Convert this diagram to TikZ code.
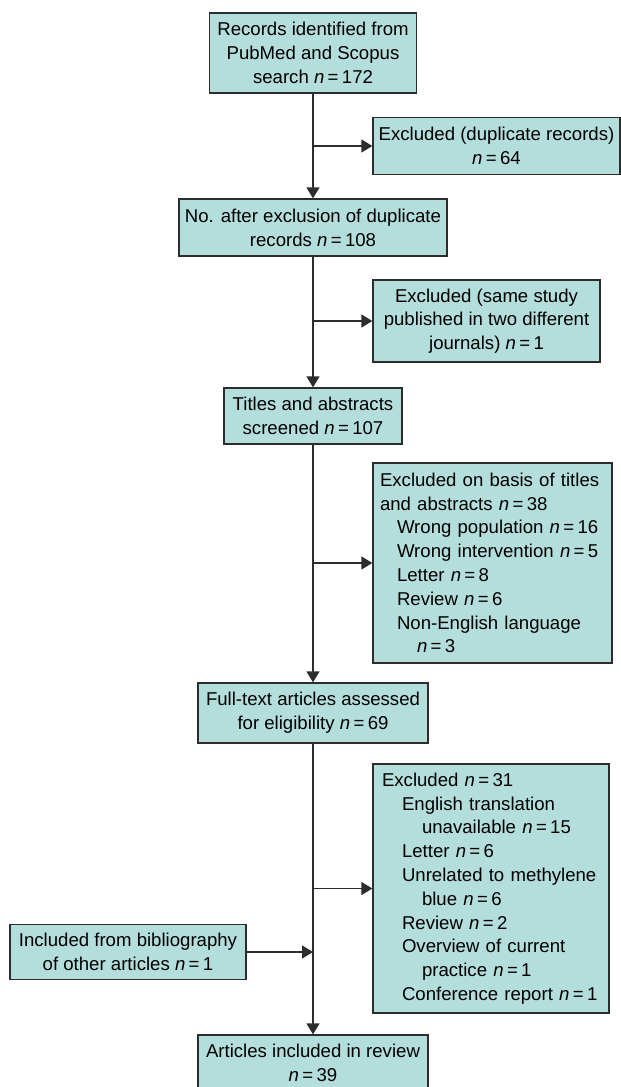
\documentclass[tikz,border=0pt]{standalone}
\usepackage{fontspec}
\setmainfont{Liberation Sans}
\usetikzlibrary{arrows.meta}
\definecolor{boxfill}{RGB}{179,222,219}
\definecolor{edgec}{RGB}{45,45,45}
\newcommand{\nv}[1]{\textit{n}\hspace{0.18em}=\hspace{0.18em}#1}
\begin{document}
\begin{tikzpicture}[x=1pt,y=-1pt,
  font=\fontsize{18.6}{23.8}\selectfont,
  box/.style={draw=edgec, line width=1.3pt, fill=boxfill, inner sep=0pt, align=center},
  lbox/.style={draw=edgec, line width=1.3pt, fill=boxfill, inner ysep=0pt, align=left},
  arr/.style={draw=edgec, line width=1.4pt, -{Triangle[length=11pt,width=13pt]}}]
\useasboundingbox (0,0) rectangle (621,1087);

\node[box, minimum width=207pt, minimum height=80pt] (rec) at (313,53)
  {Records identified from\\PubMed and Scopus\\search \nv{172}};
\node[box, minimum width=247pt, minimum height=57pt] (dup) at (496.5,146)
  {Excluded (duplicate records)\\\nv{64}};
\node[box, minimum width=268pt, minimum height=57pt] (after) at (313,227.5)
  {No. after exclusion of duplicate\\records \nv{108}};
\node[box, minimum width=227pt, minimum height=82pt] (same) at (486.5,321)
  {Excluded (same study\\published in two different\\journals) \nv{1}};
\node[box, minimum width=178pt, minimum height=56pt] (titles) at (313,416)
  {Titles and abstracts\\screened \nv{107}};
\node[lbox, text width=225pt, inner xsep=7pt, minimum height=200pt] (basis) at (492.5,563)
  {Excluded on basis of titles\\
   and abstracts \nv{38}\\
   \hspace*{17pt}Wrong population \nv{16}\\
   \hspace*{17pt}Wrong intervention \nv{5}\\
   \hspace*{17pt}Letter \nv{8}\\
   \hspace*{17pt}Review \nv{6}\\
   \hspace*{17pt}Non-English language\\
   \hspace*{37pt}\nv{3}};
\node[box, minimum width=230pt, minimum height=60pt] (full) at (313,713)
  {Full-text articles assessed\\for eligibility \nv{69}};
\node[lbox, text width=218pt, inner xsep=9pt, minimum height=249pt] (exc) at (491,888.5)
  {Excluded \nv{31}\\
   \hspace*{20pt}English translation\\
   \hspace*{40pt}unavailable \nv{15}\\
   \hspace*{20pt}Letter \nv{6}\\
   \hspace*{20pt}Unrelated to methylene\\
   \hspace*{40pt}blue \nv{6}\\
   \hspace*{20pt}Review \nv{2}\\
   \hspace*{20pt}Overview of current\\
   \hspace*{40pt}practice \nv{1}\\
   \hspace*{20pt}Conference report \nv{1}};
\node[box, minimum width=236pt, minimum height=55pt] (incl) at (128,952)
  {Included from bibliography\\of other articles \nv{1}};
\node[box, minimum width=230pt, minimum height=55pt] (art) at (313,1062.5)
  {Articles included in review\\\nv{39}};

\draw[arr] (rec) -- (after);
\draw[arr] (after) -- (titles);
\draw[arr] (titles) -- (full);
\draw[arr] (full) -- (art);
\draw[arr] (rec.south |- dup.west) -- (dup.west);
\draw[arr] (after.south |- same.west) -- (same.west);
\draw[arr] (titles.south |- basis.west) -- (basis.west);
\draw[arr] (full.south |- exc.west) -- (exc.west);
\draw[arr] (incl.east) -- (incl.east -| full.south);
\end{tikzpicture}
\end{document}
